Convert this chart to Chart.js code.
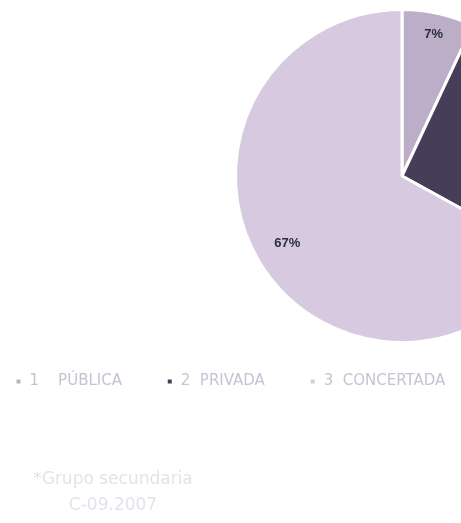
<!DOCTYPE html>
<html>
<head>
<meta charset="utf-8">
<script src="https://cdn.jsdelivr.net/npm/chart.js@4"></script>
<style>
  html, body { margin: 0; padding: 0; background: #fff; overflow: hidden; width: 461px; height: 523px; }
  #wrap { position: absolute; left: -15px; top: 0; width: 834px; height: 523px; }
  .note { position: absolute; font-family: "DejaVu Sans", sans-serif; font-size: 17px; color: #e1e3ed; text-align: center; width: 190px; left: 18px; }
</style>
</head>
<body>
<div id="wrap"><canvas id="c" width="834" height="523"></canvas></div>
<div class="note" style="top:468px;">*Grupo secundaria</div>
<div class="note" style="top:494px;">C-09.2007</div>
<script>
const categories = ["PÚBLICA", "PRIVADA", "CONCERTADA"];
const categoryNumbers = ["1", "2", "3"];
const legendLabels = ["1    PÚBLICA   ", "2  PRIVADA   ", "3  CONCERTADA"];
const shares = [7, 26, 67];
const sliceColors = ["#bcaec6", "#463e58", "#d6c9e0"];

const pctLabels = {
  id: 'pctLabels',
  afterDatasetsDraw(chart) {
    const ctx = chart.ctx;
    const meta = chart.getDatasetMeta(0);
    ctx.save();
    ctx.font = 'bold 13px "Liberation Sans", sans-serif';
    ctx.fillStyle = '#2e2e3c';
    ctx.textAlign = 'center';
    ctx.textBaseline = 'middle';
    meta.data.forEach((arc, i) => {
      const p = arc.getProps(['x', 'y', 'startAngle', 'endAngle', 'outerRadius']);
      const mid = (p.startAngle + p.endAngle) / 2;
      const r = p.outerRadius * (i === 2 ? 0.8 : 0.87);
      ctx.fillText(shares[i] + '%', p.x + Math.cos(mid) * r, p.y + Math.sin(mid) * r);
    });
    ctx.restore();
  }
};

new Chart(document.getElementById('c'), {
  type: 'pie',
  data: {
    labels: legendLabels,
    datasets: [{
      data: shares,
      backgroundColor: sliceColors,
      borderColor: '#ffffff',
      borderWidth: 3
    }]
  },
  options: {
    responsive: false,
    animation: false,
    layout: { padding: { top: 8, bottom: 124, left: 0, right: 0 } },
    plugins: {
      legend: {
        position: 'bottom',
        align: 'start',
        labels: {
          boxWidth: 7,
          boxHeight: 7,
          padding: 30,
          color: '#c3c5d3',
          font: { family: '"DejaVu Sans", sans-serif', size: 15 }
        }
      },
      tooltip: { enabled: false }
    }
  },
  plugins: [pctLabels]
});
</script>
</body>
</html>
